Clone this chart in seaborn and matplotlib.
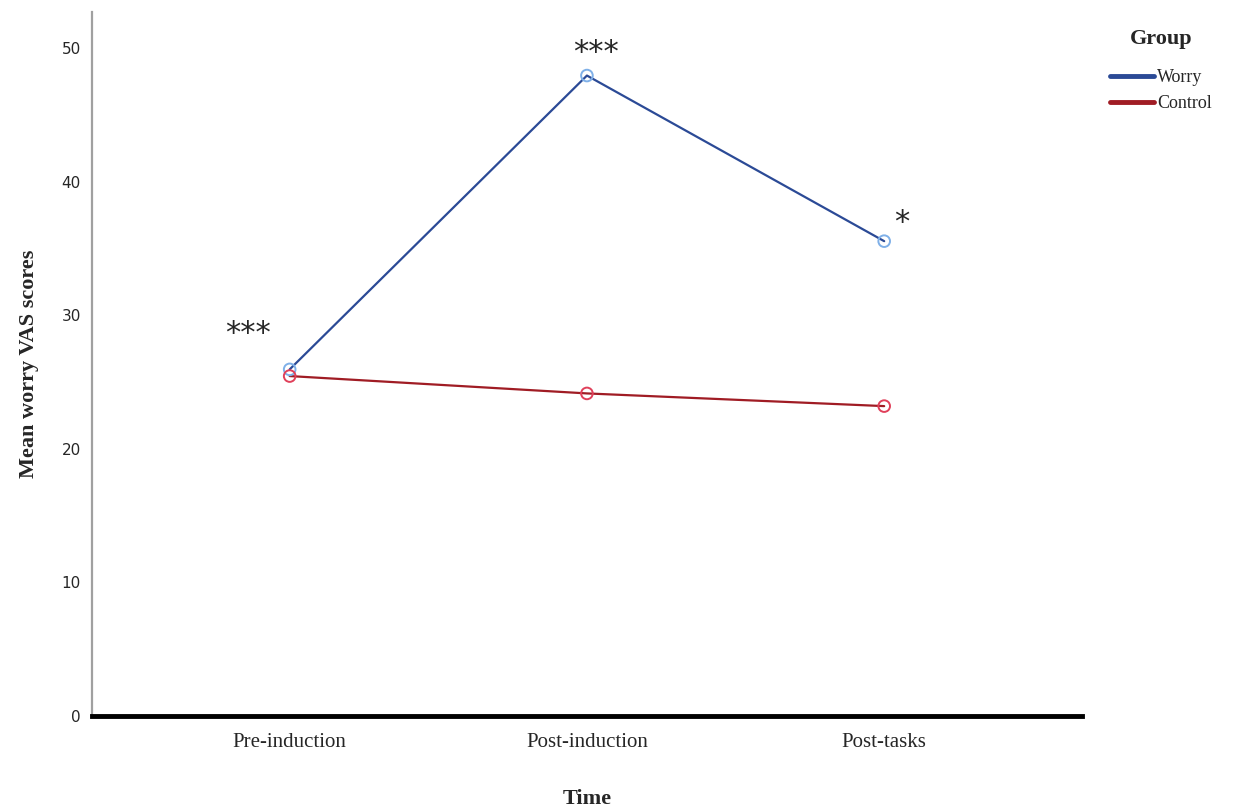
import numpy as np
import pandas as pd
import matplotlib.pyplot as plt
import seaborn as sns
from matplotlib.lines import Line2D

sns.set_style("white")

times = ['Pre-induction', 'Post-induction', 'Post-tasks']
worry = [25.95, 47.95, 35.55]
control = [25.45, 24.15, 23.2]
stars = ['***', '***', '*']

df = pd.DataFrame({
    'Time': times * 2,
    'Score': worry + control,
    'Group': ['Worry'] * 3 + ['Control'] * 3,
})
df['x'] = df['Time'].map({t: i for i, t in enumerate(times)})

line_pal = {'Worry': '#2b4a96', 'Control': '#a01c24'}
mark_pal = {'Worry': '#7fb0e8', 'Control': '#e0405a'}

fig = plt.figure(figsize=(12.35, 8.07), dpi=100)
ax = fig.add_axes([0.0745, 0.1128, 0.8015, 0.8722])

sns.lineplot(data=df, x='x', y='Score', hue='Group', palette=line_pal,
             linewidth=1.6, legend=False, ax=ax)
for g in ['Worry', 'Control']:
    sub = df[df['Group'] == g]
    ax.scatter(sub['x'], sub['Score'], s=70, facecolors='none',
               edgecolors=mark_pal[g], linewidths=1.4, zorder=3)

# significance stars
star_off = [(-0.14, 2.7), (0.03, 1.7), (0.06, 1.4)]
for i, s in enumerate(stars):
    ax.text(i + star_off[i][0], worry[i] + star_off[i][1], s,
            ha='center', va='center', fontsize=22, family='DejaVu Sans',
            fontweight='medium')

ax.set_xlim(-0.665, 2.665)
ax.set_ylim(0, 52.7)
ax.set_xticks(range(3))
ax.set_xticklabels(times, family='Liberation Serif', fontsize=15)
ax.set_yticks([0, 10, 20, 30, 40, 50])
ax.set_yticklabels(['0', '10', '20', '30', '40', '50'], family='DejaVu Sans', fontsize=11)
ax.tick_params(axis='both', length=0, pad=8)
ax.tick_params(axis='x', pad=12)

ax.set_xlabel('Time', family='Liberation Serif', fontsize=16, fontweight='bold', labelpad=27)
ax.set_ylabel('Mean worry VAS scores', family='Liberation Serif', fontsize=16,
              fontweight='bold', labelpad=16)

for sp in ['top', 'right']:
    ax.spines[sp].set_visible(False)
ax.spines['left'].set_color('#a0a0a0')
ax.spines['left'].set_linewidth(1.6)
ax.spines['bottom'].set_color('black')
ax.spines['bottom'].set_linewidth(3.5)

handles = [Line2D([0], [0], color=line_pal[g], lw=3.5) for g in ['Worry', 'Control']]
leg = fig.legend(handles, ['Worry', 'Control'], title='Group',
                 loc='upper left', bbox_to_anchor=(0.896, 0.968), frameon=False,
                 prop={'family': 'Liberation Serif', 'size': 13},
                 handlelength=2.4, handletextpad=0.2, labelspacing=0.5,
                 borderaxespad=0, borderpad=0.2)
leg.get_title().set_fontfamily('Liberation Serif')
leg.get_title().set_fontweight('bold')
leg.get_title().set_fontsize(16)
leg._legend_box.sep = 14

fig.savefig('out.png', dpi=100)
